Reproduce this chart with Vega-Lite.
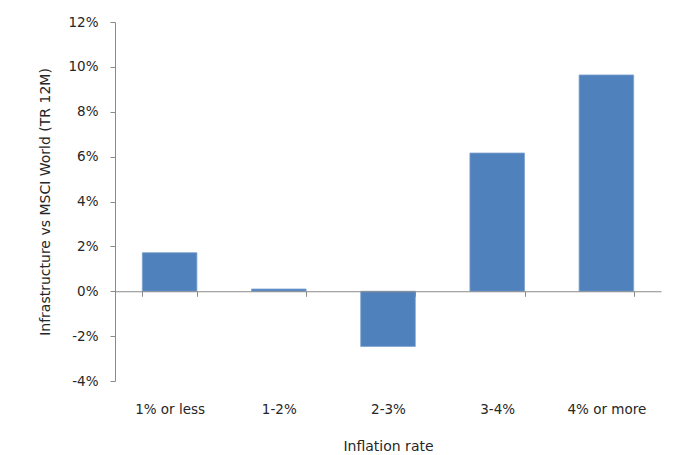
{
  "$schema": "https://vega.github.io/schema/vega-lite/v6.json",
  "autosize": "none",
  "width": 546,
  "height": 359,
  "padding": {"left": 115, "top": 22, "right": 33, "bottom": 74},
  "background": "white",
  "config": {
    "view": {"stroke": null},
    "font": "DejaVu Sans",
    "axis": {"labelFont": "DejaVu Sans", "titleFont": "DejaVu Sans", "labelColor": "#262626", "titleColor": "#262626", "labelFontSize": 13.5, "titleFontSize": 14, "titleFontWeight": "normal", "domainColor": "#8a8a8a", "tickColor": "#8a8a8a", "grid": false}
  },
  "data": {
    "values": [
      {"inflation": "1% or less", "value": 0.0172},
      {"inflation": "1-2%", "value": 0.001},
      {"inflation": "2-3%", "value": -0.0246},
      {"inflation": "3-4%", "value": 0.0616},
      {"inflation": "4% or more", "value": 0.0964}
    ]
  },
  "mark": {"type": "bar", "color": "#4F81BD", "stroke": "#7fa2d0", "strokeWidth": 0.8},
  "encoding": {
    "x": {
      "field": "inflation",
      "type": "nominal",
      "sort": null,
      "scale": {"paddingInner": 0.5, "paddingOuter": 0.25},
      "axis": {
        "title": "Inflation rate",
        "labelAngle": 0,
        "offset": -89.75,
        "tickBand": "extent",
        "tickSize": 5,
        "labelPadding": 106,
        "titlePadding": 24,
        "zindex": 1
      }
    },
    "y": {
      "field": "value",
      "type": "quantitative",
      "scale": {"domain": [-0.04, 0.12], "nice": false},
      "axis": {
        "title": "Infrastructure vs MSCI World (TR 12M)",
        "format": ".0%",
        "labelExpr": "replace(datum.label, '\u2212', '-')",
        "values": [-0.04, -0.02, 0, 0.02, 0.04, 0.06, 0.08, 0.1, 0.12],
        "tickSize": 5,
        "labelPadding": 12,
        "titlePadding": 15
      }
    }
  }
}
